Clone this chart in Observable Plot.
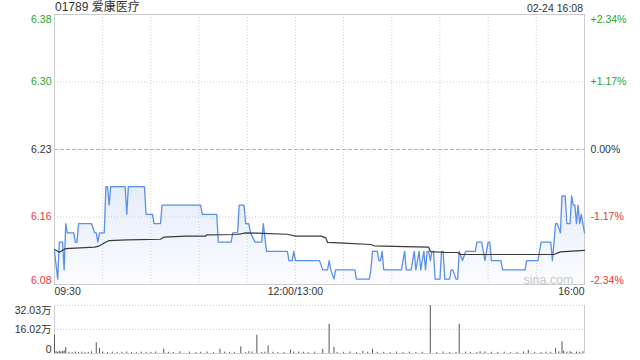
<!DOCTYPE html>
<html><head><meta charset="utf-8">
<script src="https://cdn.jsdelivr.net/npm/d3@7"></script>
<script src="https://cdn.jsdelivr.net/npm/@observablehq/plot@0.6"></script>
<style>
body{margin:0;background:#fff;font-family:"Liberation Sans",Arial,"Noto Sans CJK SC",sans-serif;}
#wrap{position:relative;width:640px;height:360px;overflow:hidden;background:#fff}
#wrap svg{position:absolute;left:0}
.hdr{position:absolute;top:0;color:#333;white-space:nowrap}
</style></head><body>
<div id="wrap">
<div class="hdr" id="title" style="left:55px;top:0px;font-size:12px;line-height:15px;font-family:'Liberation Sans','Noto Sans CJK SC',sans-serif"></div>
<div class="hdr" id="stamp" style="right:57px;top:1px;font-size:10.5px;line-height:14px"></div>
</div>
<script>
// ---- data ----
const titleText = "01789 爱康医疗";
const stampText = "02-24 16:08";
const prevClose = 6.23;

// minute offsets from 09:30 (trading minutes, lunch removed) and prices
const priceT = [0,2,3,5,6,7,8,12,13,14,15,23,25,26,27,28,31,32,33,34,35,44,45,46,56,57,61,62,66,67,91,92,101,102,110,111,114,115,118,119,121,122,125,129,130,132,145,146,148,149,150,165,167,170,171,172,174,175,187,188,196,197,198,201,202,203,204,205,216,218,219,222,224,225,227,228,230,231,232,233,234,235,236,237,240,241,242,243,246,247,248,250,251,252,254,256,262,263,266,268,270,271,272,278,279,293,294,301,303,309,310,311,312,313,315,316,318,319,321,322,323,324,325,326,327,328,329,330];
const priceP = [6.12,6.09,6.13,6.13,6.10,6.15,6.14,6.14,6.13,6.13,6.15,6.15,6.14,6.14,6.13,6.14,6.14,6.19,6.19,6.17,6.19,6.19,6.16,6.19,6.19,6.16,6.16,6.15,6.15,6.17,6.17,6.16,6.16,6.13,6.13,6.14,6.14,6.17,6.17,6.15,6.15,6.14,6.13,6.13,6.15,6.12,6.12,6.11,6.11,6.12,6.11,6.11,6.10,6.10,6.11,6.10,6.09,6.10,6.10,6.09,6.09,6.10,6.12,6.12,6.11,6.11,6.12,6.10,6.10,6.12,6.10,6.10,6.12,6.10,6.12,6.10,6.12,6.10,6.12,6.12,6.11,6.12,6.12,6.09,6.09,6.12,6.12,6.09,6.09,6.10,6.10,6.09,6.09,6.12,6.11,6.12,6.12,6.13,6.13,6.11,6.13,6.13,6.11,6.11,6.10,6.10,6.11,6.11,6.13,6.13,6.11,6.13,6.15,6.15,6.14,6.18,6.18,6.15,6.15,6.18,6.17,6.17,6.15,6.17,6.15,6.16,6.15,6.14];

const avgT = [0,3,7,25,28,31,34,45,66,68,82,94,95,114,119,126,145,150,166,169,170,180,197,199,218,233,234,244,251,253,311,315,330];
const avgP = [6.122,6.119,6.123,6.1245,6.126,6.129,6.1317,6.1325,6.1331,6.1353,6.1364,6.1364,6.1379,6.1382,6.140,6.1396,6.1385,6.1364,6.1364,6.1346,6.1296,6.1288,6.1274,6.126,6.1252,6.1245,6.1198,6.1188,6.1188,6.1166,6.1166,6.1195,6.121];

// volume (万股) per minute
const volT = [0,1,2,3,4,5,6,7,26,28,30,68,78,103,116,121,126,133,147,152,167,171,174,192,198,234,252,265,295,312,316,317,321,329];
const volV = [12.2,1.2,0.8,1.5,1.0,1.3,1.8,4.0,7.1,3.3,1.0,2.9,1.1,2.9,4.4,1.2,12.2,5.1,2.2,1.0,2.7,19.5,4.0,1.5,2.9,32.03,19.5,1.2,2.2,3.3,7.8,1.5,1.2,1.2];
const minorVolT = [9,11,13,15,17,19,21,23,33,36,39,42,45,48,51,54,57,60,63,71,74,84,88,91,95,99,106,109,112,119,123,129,131,136,139,143,149,155,158,162,176,180,184,188,195,201,205,209,213,217,221,225,229,238,242,246,250,256,259,263,268,272,276,280,284,288,292,299,303,306,309,314,319,322,325,327];
const minorVolV = [0.8,0.6,1.0,0.7,0.9,0.6,0.8,1.1,0.7,0.9,0.6,0.8,1.0,0.7,0.6,0.9,0.8,0.7,1.0,0.8,0.6,0.9,0.7,0.8,1.0,0.6,0.9,0.7,0.8,0.6,1.0,0.7,0.9,0.8,0.6,0.7,1.0,0.8,0.6,0.9,0.7,0.8,1.0,0.6,0.9,0.7,0.8,0.6,1.0,0.7,0.9,0.6,0.8,0.7,1.0,0.6,0.8,0.9,0.7,0.6,1.0,0.8,0.7,0.9,0.6,0.8,1.0,0.7,0.6,0.9,0.8,1.1,0.9,0.7,1.0,0.8];

const pctTicks = [2.34,1.17,0,-1.17,-2.34];
const priceTickLabels = ["6.38","6.30","6.23","6.16","6.08"];
const pctTickLabels = ["+2.34%","+1.17%","0.00%","-1.17%","-2.34%"];
const timeTickT = [0,150,330];
const timeTickLabels = ["09:30","12:00/13:00","16:00"];
const gridT = [30,60,90,120,150,180,210,240,270,300];
const volTicks = [32.03,16.02,0];
const volTickLabels = ["32.03万","16.02万","0"];

// ---- build ----
document.getElementById("title").textContent = titleText;
document.getElementById("stamp").textContent = stampText;

const GREEN = "#2aa52a", RED = "#ee3333", DARK = "#333";
const FONT = "'Liberation Sans', Arial, 'Noto Sans CJK SC', sans-serif";
const price = priceT.map((t,i)=>({t, p: priceP[i]}));
const avg = avgT.map((t,i)=>({t, p: avgP[i]}));
const vol = volT.map((t,i)=>({t, v: volV[i]})).concat(minorVolT.map((t,i)=>({t, v: minorVolV[i]})));
const yLo = prevClose*(1-0.0234), yHi = prevClose*(1+0.0234);
const ticks = pctTicks.map((c,i)=>({p: prevClose*(1+c/100), c, lab: priceTickLabels[i], pl: pctTickLabels[i], i}));
const tickColor = d => d.c > 0 ? GREEN : d.c < 0 ? RED : DARK;

function gradientDefs() {
  const ns = "http://www.w3.org/2000/svg";
  const defs = document.createElementNS(ns, "defs");
  const g = document.createElementNS(ns, "linearGradient");
  g.setAttribute("id","pg"); g.setAttribute("x1","0"); g.setAttribute("x2","0"); g.setAttribute("y1","0"); g.setAttribute("y2","1");
  [["0%","#e4edfb",1],["100%","#fbfcff",1]].forEach(([o,c,a])=>{
    const s = document.createElementNS(ns,"stop"); s.setAttribute("offset",o); s.setAttribute("stop-color",c); s.setAttribute("stop-opacity",a); g.appendChild(s);
  });
  defs.appendChild(g); return defs;
}

const anchors = [["start"],["middle"],["end"]];
const timeLabelMarks = timeTickT.map((t,i)=>Plot.text([{t, lab: timeTickLabels[i]}], {
  x:"t", y: () => yLo, text:"lab", textAnchor: i===0?"start":i===2?"end":"middle",
  lineAnchor:"top", dy: 3, fill: DARK, fontSize: 10.5
}));

const leftMarks = [
  Plot.text(ticks.filter(d=>d.i===0), {x:()=>0, y:"p", text:"lab", fill: tickColor, textAnchor:"end", dx:-3, lineAnchor:"top", dy:1, fontSize:10.5}),
  Plot.text(ticks.filter(d=>d.i>0&&d.i<4), {x:()=>0, y:"p", text:"lab", fill: tickColor, textAnchor:"end", dx:-3, lineAnchor:"middle", fontSize:10.5}),
  Plot.text(ticks.filter(d=>d.i===4), {x:()=>0, y:"p", text:"lab", fill: tickColor, textAnchor:"end", dx:-3, lineAnchor:"bottom", dy:-1, fontSize:10.5}),
  Plot.text(ticks.filter(d=>d.i===0), {x:()=>330, y:"p", text:"pl", fill: tickColor, textAnchor:"start", dx:6, lineAnchor:"top", dy:1, fontSize:10.5}),
  Plot.text(ticks.filter(d=>d.i>0&&d.i<4), {x:()=>330, y:"p", text:"pl", fill: tickColor, textAnchor:"start", dx:6, lineAnchor:"middle", fontSize:10.5}),
  Plot.text(ticks.filter(d=>d.i===4), {x:()=>330, y:"p", text:"pl", fill: tickColor, textAnchor:"start", dx:6, lineAnchor:"bottom", dy:-1, fontSize:10.5})
];

const main = Plot.plot({
  width: 640, height: 300,
  marginLeft: 54, marginRight: 56, marginTop: 14, marginBottom: 16,
  style: {fontFamily: FONT, background: "transparent", overflow: "visible"},
  x: {domain: [0,330], axis: null},
  y: {domain: [yLo, yHi], axis: null},
  marks: [
    () => gradientDefs(),
    Plot.areaY(price, {x:"t", y1: () => yLo, y2:"p", fill:"url(#pg)"}),
    Plot.ruleY(ticks.filter(d=>d.c!==0 && Math.abs(d.c)<2), {y:"p", stroke:"#cfcfcf", strokeDasharray:"1,2"}),
    Plot.ruleX(gridT, {stroke:"#cfcfcf", strokeDasharray:"1,2"}),
    Plot.ruleY([prevClose], {stroke:"#b0b0b0", strokeDasharray:"4,2"}),
    Plot.frame({stroke:"#cccccc"}),
    Plot.text(["sina.com"], {x:()=>330, y:()=>yLo, text: d=>d, textAnchor:"end", dx:-11, dy:-5, fill:"#c9c9c9", fontSize:12.5}),
    Plot.line(price, {x:"t", y:"p", stroke:"#5a8fec", strokeWidth:1.3}),
    Plot.line(avg, {x:"t", y:"p", stroke:"#3a3a3a", strokeWidth:1.2}),
    ...leftMarks,
    ...timeLabelMarks
  ]
});
main.style.top = "0px";

const volPlot = Plot.plot({
  width: 640, height: 60,
  marginLeft: 54, marginRight: 56, marginTop: 5, marginBottom: 7,
  style: {fontFamily: FONT, background: "transparent", overflow: "visible"},
  x: {domain: [0,330], axis: null},
  y: {domain: [0, 32.03], axis: null},
  marks: [
    Plot.ruleY([32.03, 16.02], {stroke:"#cfcfcf", strokeDasharray:"1,2"}),
    Plot.ruleX([0,330], {stroke:"#cccccc"}),
    Plot.ruleY([0], {stroke:"#d0d0d0"}),
    Plot.ruleX(vol, {x:"t", y1: () => 0, y2:"v", stroke:"#555", strokeWidth:1}),
    Plot.text([{v:32.03, lab: volTickLabels[0]}], {x:()=>0, y:"v", text:"lab", textAnchor:"end", dx:-3, lineAnchor:"top", dy:1, fill:DARK, fontSize:10.5}),
    Plot.text([{v:16.02, lab: volTickLabels[1]}], {x:()=>0, y:"v", text:"lab", textAnchor:"end", dx:-3, lineAnchor:"middle", fill:DARK, fontSize:10.5}),
    Plot.text([{v:0, lab: volTickLabels[2]}], {x:()=>0, y:"v", text:"lab", textAnchor:"end", dx:-3, lineAnchor:"bottom", dy:-1, fill:DARK, fontSize:10.5})
  ]
});
volPlot.style.top = "300px";

const wrap = document.getElementById("wrap");
wrap.appendChild(main);
wrap.appendChild(volPlot);
</script>
</body></html>
